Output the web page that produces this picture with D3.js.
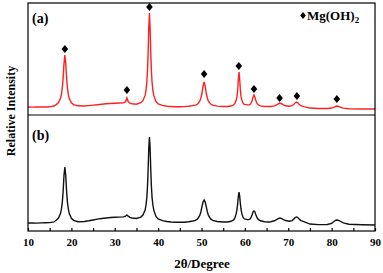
<!DOCTYPE html>
<html><head><meta charset="utf-8">
<script src="https://cdn.jsdelivr.net/npm/d3@7"></script>
<style>
html,body{margin:0;padding:0;background:#fff;}
svg{display:block;}
text{font-family:"Liberation Serif","Times New Roman",serif;font-weight:bold;fill:#000;}
</style></head>
<body>
<svg id="chart" width="383" height="273"></svg>
<script>
// 2θ angles (degrees) sampled from the pattern
const angles = [10,11,12,13,14,15,16,16.5,17,17.5,17.7,17.9,18.1,18.3,18.5,18.7,18.9,19.1,19.3,19.5,20,20.5,21.5,23,24,25,26,27,28,29,30,31,32,32.5,32.8,33.1,33.5,34,35,36,36.5,37,37.2,37.4,37.55,37.7,37.85,38,38.15,38.3,38.45,38.6,38.8,39,39.5,40,41,42,43,44,45,46,47,48,48.6,49.1,49.6,49.85,50.1,50.35,50.6,50.85,51.1,51.35,51.6,52.1,52.6,53.6,55,56,56.8,57.4,57.7,58,58.2,58.35,58.5,58.65,58.8,58.95,59.1,59.3,59.6,59.9,60.6,61.1,61.4,61.65,61.9,62.1,62.3,62.55,62.8,63.1,63.6,64.5,65.5,66,66.8,67.3,67.7,68.1,68.5,68.9,69.4,70.2,70.9,71.3,71.6,71.9,72.2,72.5,72.9,73.6,75,77,79,80,80.6,81,81.3,81.6,82,82.7,84,87,90];
// Sample (a) intensities (a.u.)
const seriesA = [71,70,72,71,72,73,80,93,109,149,183,238,331,459,536,459,331,238,183,149,109,93,82,80,84,88,92,96,100,103,105,107,108,118,152,120,105,100,96,110,128,175,218,295,397,561,783,911,783,561,397,295,218,175,120,100,86,78,76,74,74,75,78,84,88,98,124,150,194,257,295,257,194,150,124,98,88,79,76,76,80,90,103,134,168,228,322,384,322,228,168,134,103,95,90,90,103,126,161,179,161,126,103,90,81,76,76,76,82,91,100,107,100,91,82,78,83,95,108,116,108,95,83,75,62,58,58,62,70,78,80,77,69,61,56,54,54];
// Sample (b) intensities (a.u.)
const seriesB = [69,70,68,70,71,72,78,92,110,152,188,245,340,480,552,478,340,245,188,152,110,92,80,82,88,95,102,108,112,116,118,120,122,128,138,128,118,112,108,120,138,180,222,290,385,530,720,810,720,530,385,290,222,180,126,104,90,82,78,76,75,76,80,86,92,104,134,164,210,250,267,250,210,164,134,104,92,82,78,78,84,96,112,150,190,240,300,336,300,240,190,150,115,104,98,100,115,138,165,172,165,138,115,100,88,80,78,80,88,98,107,112,107,98,90,84,90,104,116,121,116,104,90,80,60,55,56,66,84,93,95,92,84,70,58,54,52];
// Mg(OH)2 reflection markers on pattern (a)
const markerAngles = [18.5,32.8,38.0,50.6,58.6,62.1,68.0,72.0,81.2];
const markerValues = [589,223,964,366,438,232,152,170,143];
const xTicks = [10,20,30,40,50,60,70,80,90];
const minorTicks = [15,25,35,45,55,65,75,85];
const panelLabels = ["(a)","(b)"];

const svg = d3.select("#chart");
const L = 28, R = 375, T = 3, M = 115, B = 231;
const x = d3.scaleLinear().domain([10,90]).range([L,R]);
const yA = d3.scaleLinear().domain([0,1000]).range([M,T]);
const yB = d3.scaleLinear().domain([0,1000]).range([B,M]);

const dataA = angles.map((a,i)=>[a,seriesA[i]]);
const dataB = angles.map((a,i)=>[a,seriesB[i]]);

const clip = svg.append("defs");
clip.append("clipPath").attr("id","cpA").append("rect").attr("x",L).attr("y",T).attr("width",R-L).attr("height",M-T);
clip.append("clipPath").attr("id","cpB").append("rect").attr("x",L).attr("y",M).attr("width",R-L).attr("height",B-M);

svg.append("path").datum(dataA).attr("clip-path","url(#cpA)")
  .attr("fill","none").attr("stroke","#ff2020").attr("stroke-width",1.4)
  .attr("d", d3.line().x(d=>x(d[0])).y(d=>yA(d[1])));
svg.append("path").datum(dataB).attr("clip-path","url(#cpB)")
  .attr("fill","none").attr("stroke","#111").attr("stroke-width",1.4)
  .attr("d", d3.line().x(d=>x(d[0])).y(d=>yB(d[1])));

// frame
svg.append("rect").attr("x",L).attr("y",T).attr("width",R-L).attr("height",B-T)
  .attr("fill","none").attr("stroke","#000").attr("stroke-width",1.2);
svg.append("line").attr("x1",L).attr("x2",R).attr("y1",M).attr("y2",M)
  .attr("stroke","#000").attr("stroke-width",1.2);

// x axis
const ax = svg.append("g").attr("transform",`translate(0,${B})`)
  .call(d3.axisBottom(x).tickValues(xTicks.concat(minorTicks)).tickSizeInner(-3).tickSizeOuter(0)
    .tickFormat(d=> xTicks.includes(d) ? d : ""));
ax.attr("font-family",null);
ax.select(".domain").remove();
ax.selectAll(".tick line").attr("stroke","#000").attr("stroke-width",1.2);
ax.selectAll(".tick text").attr("y",7).attr("font-size",11)
  .style("font-family",'"Liberation Serif","Times New Roman",serif').style("font-weight","bold");

// markers
const diamond = "M0,-4L3.3,0L0,4L-3.3,0Z";
svg.selectAll(".mk").data(markerAngles).enter().append("path")
  .attr("d",diamond).attr("fill","#000")
  .attr("transform",(d,i)=>`translate(${x(d)},${yA(markerValues[i])})`);

// legend
svg.append("path").attr("d","M0,-3.5L2.8,0L0,3.5L-2.8,0Z").attr("fill","#000")
  .attr("transform","translate(303,15.5)");
const lg = svg.append("text").attr("x",307).attr("y",20).attr("font-size",13);
lg.append("tspan").text("Mg(OH)");
lg.append("tspan").attr("font-size",9).attr("dy",3).text("2");

// panel labels
svg.append("text").attr("x",32).attr("y",23).attr("font-size",14).text(panelLabels[0]);
svg.append("text").attr("x",32).attr("y",140).attr("font-size",14).text(panelLabels[1]);

// axis titles
svg.append("text").attr("x",202).attr("y",268).attr("text-anchor","middle").attr("font-size",13).text("2θ/Degree");
svg.append("text").attr("transform","translate(15,111) rotate(-90)").attr("text-anchor","middle").attr("font-size",12).text("Relative Intensity");
</script>
</body></html>
